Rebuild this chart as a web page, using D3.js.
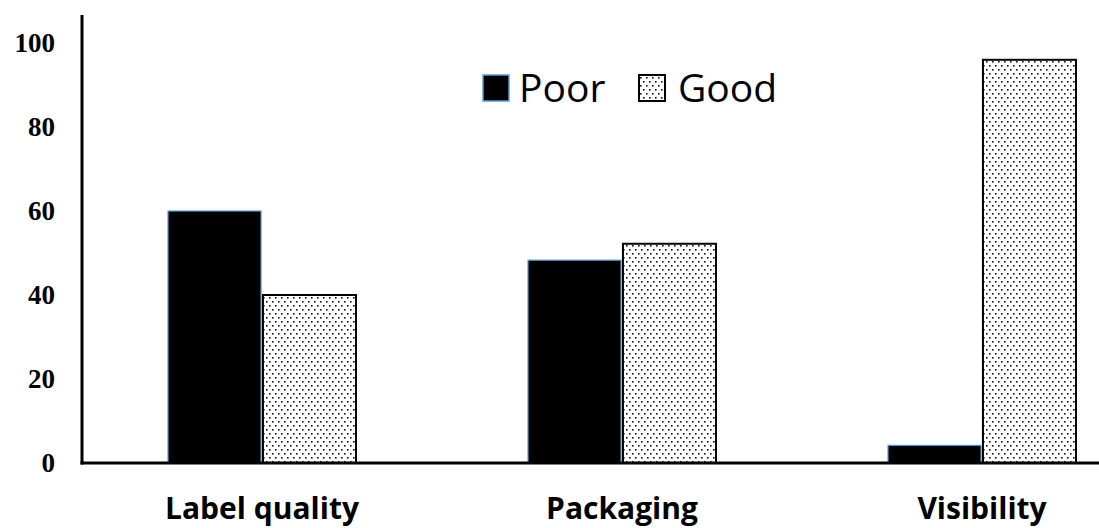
<!DOCTYPE html>
<html>
<head>
<meta charset="utf-8">
<script src="https://cdn.jsdelivr.net/npm/d3@7"></script>
<style>
  html, body { margin: 0; padding: 0; background: #fff; }
  svg { display: block; }
</style>
</head>
<body>
<svg id="chart" width="1099" height="528"></svg>
<script>
const categories = ["Label quality", "Packaging", "Visibility"];
const seriesNames = ["Poor", "Good"];
const poorValues = [60, 48.3, 4.2];
const goodValues = [40, 52.2, 96];
const yTicks = [0, 20, 40, 60, 80, 100];

const svg = d3.select("#chart");
const W = 1099, H = 528;

const defs = svg.append("defs");
const pat = defs.append("pattern")
  .attr("id", "dots").attr("patternUnits", "userSpaceOnUse")
  .attr("width", 6).attr("height", 8);
pat.append("rect").attr("width", 6).attr("height", 8).attr("fill", "#fff");
pat.append("rect").attr("x", 1).attr("y", 1).attr("width", 1.6).attr("height", 1.6).attr("fill", "#111");
pat.append("rect").attr("x", 4).attr("y", 5).attr("width", 1.6).attr("height", 1.6).attr("fill", "#111");

const x0 = d3.scaleBand().domain(categories).range([82, 1162]).padding(0);
const x1 = d3.scaleBand().domain(seriesNames).range([86, 274]).paddingInner(0.02);
const y = d3.scaleLinear().domain([0, 100]).range([463, 43]);

const data = categories.map((c, i) => ({ cat: c, vals: [
  { s: "Poor", v: poorValues[i] }, { s: "Good", v: goodValues[i] }
]}));

const groups = svg.append("g").selectAll("g").data(data).join("g")
  .attr("transform", d => `translate(${x0(d.cat)},0)`);

groups.selectAll("rect").data(d => d.vals).join("rect")
  .attr("x", d => x1(d.s))
  .attr("y", d => y(d.v))
  .attr("width", x1.bandwidth())
  .attr("height", d => y(0) - y(d.v))
  .attr("fill", d => d.s === "Poor" ? "#000" : "url(#dots)")
  .attr("stroke", d => d.s === "Poor" ? "#5b9bd5" : "#000")
  .attr("stroke-width", d => d.s === "Poor" ? 1.2 : 2);

// Y axis
const yAxis = d3.axisLeft(y).tickValues(yTicks).tickSize(0).tickPadding(27);
const yg = svg.append("g").attr("transform", "translate(82,0)").call(yAxis);
yg.select(".domain").remove();
yg.selectAll("text")
  .attr("font-family", "'Liberation Serif', 'Times New Roman', serif")
  .attr("font-weight", "bold").attr("font-size", 27).attr("fill", "#000");

svg.append("line").attr("x1", 82).attr("x2", 82).attr("y1", 15).attr("y2", 464.5)
  .attr("stroke", "#000").attr("stroke-width", 3);

// X axis
const xAxis = d3.axisBottom(x0).tickSize(0).tickPadding(0);
const xg = svg.append("g").attr("transform", "translate(0,463)").call(xAxis);
xg.select(".domain").remove();
xg.selectAll("text")
  .attr("y", 56).attr("dy", null)
  .attr("font-family", "'Open Sans', sans-serif")
  .attr("font-weight", "bold").attr("font-size", 30).attr("fill", "#000");

svg.append("line").attr("x1", 80.5).attr("x2", W).attr("y1", 463).attr("y2", 463)
  .attr("stroke", "#000").attr("stroke-width", 3);

// Legend
const legend = svg.append("g");
const legendItems = [
  { s: "Poor", x: 483, tx: 519 },
  { s: "Good", x: 639, tx: 678 }
];
legendItems.forEach(it => {
  legend.append("rect").attr("x", it.x).attr("y", 75).attr("width", 26).attr("height", 26)
    .attr("fill", it.s === "Poor" ? "#000" : "url(#dots)")
    .attr("stroke", it.s === "Poor" ? "#5b9bd5" : "#000")
    .attr("stroke-width", it.s === "Poor" ? 1.5 : 2);
  legend.append("text").attr("x", it.tx).attr("y", 102)
    .attr("font-family", "'Open Sans', sans-serif").attr("font-size", 39)
    .attr("fill", "#000").text(it.s);
});
</script>
</body>
</html>
